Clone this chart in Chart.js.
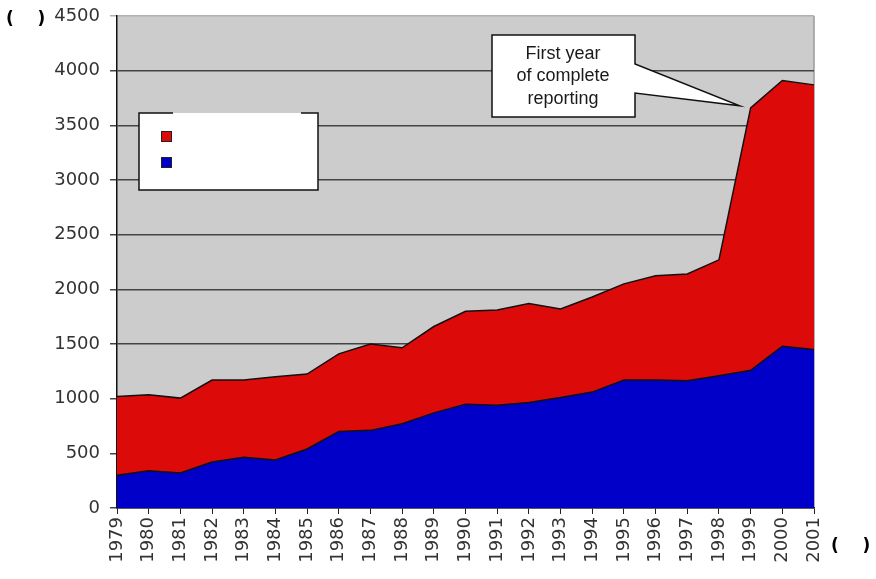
<!DOCTYPE html>
<html>
<head>
<meta charset="utf-8">
<script src="https://cdn.jsdelivr.net/npm/chart.js@4.4.1/dist/chart.umd.min.js"></script>
<style>
  html, body { margin: 0; padding: 0; background: #fff; }
  #wrap { position: relative; width: 876px; height: 579px; }
</style>
</head>
<body>
<div id="wrap"><canvas id="chart" width="876" height="579"></canvas></div>
<script>
// years along the x axis
const years = ['1979', '1980', '1981', '1982', '1983', '1984', '1985', '1986', '1987', '1988', '1989',
    '1990', '1991', '1992', '1993', '1994', '1995', '1996', '1997', '1998', '1999', '2000', '2001'];

// lower (blue) band
const blueValues = [300, 340, 320, 420, 465, 440, 540, 700, 710, 770, 870,
    950, 940, 965, 1010, 1060, 1170, 1170, 1165, 1210, 1260, 1480, 1450];

// top of the red band (total)
const totalValues = [1020, 1035, 1005, 1170, 1170, 1200, 1225, 1410, 1500, 1465, 1660,
    1800, 1810, 1870, 1820, 1930, 2050, 2125, 2140, 2270, 3660, 3910, 3870];

const yTicks = [0, 500, 1000, 1500, 2000, 2500, 3000, 3500, 4000, 4500];

const calloutLines = ['First year', 'of complete', 'reporting'];
const calloutIndex = 20; // 1999
const axisTitle = '(    )';

// grey plot background + right frame
const plotBackground = {
    id: 'plotBackground',
    beforeDraw(chart) {
        const { ctx, chartArea: a } = chart;
        ctx.save();
        ctx.fillStyle = '#cccccc';
        ctx.fillRect(a.left, a.top, a.right - a.left, a.bottom - a.top);
        ctx.strokeStyle = '#9a9a9a';
        ctx.lineWidth = 1.5;
        ctx.beginPath();
        ctx.moveTo(a.right, a.top);
        ctx.lineTo(a.right, a.bottom);
        ctx.stroke();
        ctx.restore();
    }
};

// legend box, callout and the bracket axis titles
const extras = {
    id: 'extras',
    afterDraw(chart) {
        const { ctx } = chart;
        const xs = chart.scales.x, ys = chart.scales.y;
        ctx.save();

        // legend box
        ctx.fillStyle = '#fff';
        ctx.fillRect(139, 113, 179, 77);
        ctx.strokeStyle = '#111';
        ctx.lineWidth = 1.5;
        ctx.beginPath();
        ctx.moveTo(173, 113); ctx.lineTo(139, 113); ctx.lineTo(139, 190);
        ctx.lineTo(318, 190); ctx.lineTo(318, 113); ctx.lineTo(301, 113);
        ctx.stroke();
        [['#dd0a0a', 131], ['#0000c8', 157]].forEach(([c, y]) => {
            ctx.fillStyle = c;
            ctx.fillRect(161, y, 11, 11);
            ctx.strokeStyle = '#222';
            ctx.lineWidth = 1;
            ctx.strokeRect(161.5, y + 0.5, 10, 10);
        });

        // callout pointing at the 1999 total
        const tipX = xs.getPixelForValue(calloutIndex) - 11;
        const tipY = ys.getPixelForValue(totalValues[calloutIndex]) - 2;
        const L = 492, T = 35, R = 635, B = 117;
        ctx.beginPath();
        ctx.moveTo(L, T); ctx.lineTo(R, T); ctx.lineTo(R, 64);
        ctx.lineTo(tipX, tipY); ctx.lineTo(R, 93); ctx.lineTo(R, B);
        ctx.lineTo(L, B); ctx.closePath();
        ctx.fillStyle = '#fff';
        ctx.fill();
        ctx.strokeStyle = '#111';
        ctx.lineWidth = 1.5;
        ctx.stroke();
        ctx.fillStyle = '#1a1a1a';
        ctx.font = '18px "Liberation Sans", Arial, sans-serif';
        ctx.textAlign = 'center';
        ctx.textBaseline = 'middle';
        calloutLines.forEach((t, i) => ctx.fillText(t, 563, 54 + i * 22.5));

        // axis titles
        ctx.font = 'bold 17px "DejaVu Sans", sans-serif';
        ctx.textAlign = 'left';
        ctx.fillStyle = '#000';
        ctx.fillText(axisTitle, 6, 20);
        ctx.fillText(axisTitle, 831, 547);
        ctx.restore();
    }
};

const tickFont = { family: '"DejaVu Sans", Verdana, sans-serif', size: 18 };

const ctx = document.getElementById('chart').getContext('2d');
new Chart(ctx, {
    type: 'line',
    data: {
        labels: years,
        datasets: [
            {
                data: blueValues,
                backgroundColor: '#0000c8',
                borderColor: '#111',
                borderWidth: 1.5,
                fill: 'origin',
                pointRadius: 0,
                tension: 0
            },
            {
                data: totalValues,
                backgroundColor: '#dd0a0a',
                borderColor: '#111',
                borderWidth: 1.5,
                fill: '-1',
                pointRadius: 0,
                tension: 0
            }
        ]
    },
    plugins: [plotBackground, extras],
    options: {
        responsive: false,
        animation: false,
        layout: { padding: { left: 0, right: 62, top: 16, bottom: 0 } },
        plugins: {
            legend: { display: false },
            tooltip: { enabled: false }
        },
        scales: {
            x: {
                offset: false,
                afterFit(scale) {
                    scale.height = 71;
                    scale.paddingLeft = 0;
                    scale.paddingRight = 0;
                },
                grid: {
                    drawOnChartArea: false,
                    drawTicks: true,
                    tickLength: 6,
                    color: '#222'
                },
                border: { color: '#111', width: 1.5 },
                ticks: {
                    autoSkip: false,
                    maxRotation: 90,
                    minRotation: 90,
                    padding: 3,
                    color: '#333',
                    font: tickFont
                }
            },
            y: {
                min: 0,
                max: 4500,
                afterFit(scale) {
                    scale.width = 117;
                    scale.paddingTop = 0;
                    scale.paddingBottom = 0;
                },
                afterBuildTicks(scale) { scale.ticks = yTicks.map(v => ({ value: v })); },
                grid: {
                    color: c => (c.tick && c.tick.value === 4500) ? '#b0b0b0' : '#444',
                    lineWidth: 1.5,
                    tickLength: 7
                },
                border: { color: '#111', width: 1.5 },
                ticks: {
                    padding: 10,
                    color: '#333',
                    font: tickFont,
                    callback: v => String(v)
                }
            }
        }
    }
});
</script>
</body>
</html>
